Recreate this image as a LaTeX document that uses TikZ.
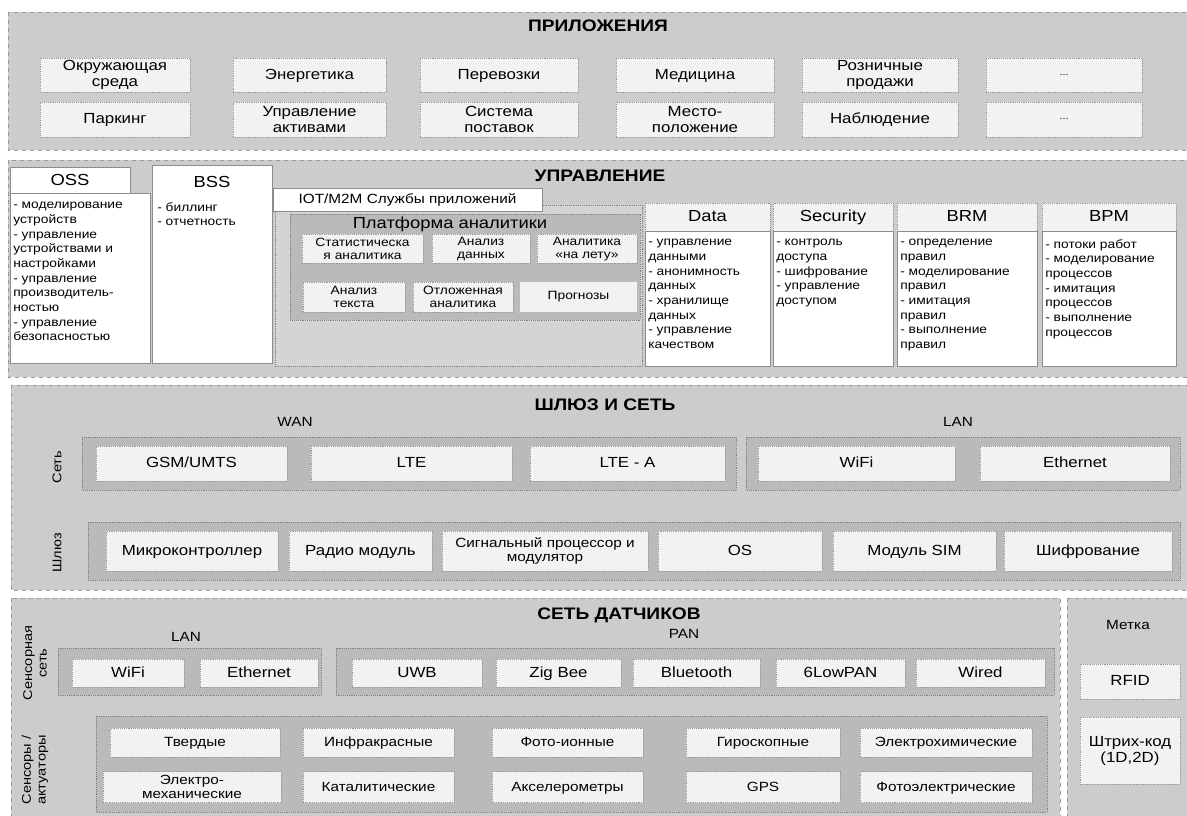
\documentclass[tikz,border=0pt]{standalone}
\usepackage{fontspec}
\setmainfont{Liberation Sans}[FakeStretch=1.15]
\usetikzlibrary{positioning}
\definecolor{bandgray}{gray}{0.80}
\definecolor{grpgray}{gray}{0.73}
\definecolor{cellgray}{gray}{0.95}

\begin{document}
\begin{tikzpicture}[
    x=0.75pt, y=-0.75pt,
    font=\fontsize{11}{12}\selectfont,
    sz/.style 2 args={minimum width=#1*0.75pt, minimum height=#2*0.75pt},
    band/.style={draw=black!40, dashed, fill=bandgray},
    grp/.style={draw=black!50, densely dotted, fill=grpgray},
    cell/.style={draw=black!40, densely dotted, fill=cellgray, align=center, inner sep=1pt},
    one/.style={text height=1.6ex, text depth=0.4ex},
    body/.style={draw=black!45, fill=white, inner sep=0pt},
    ttl/.style={font=\fontsize{12.5}{14}\selectfont\bfseries},
    hdr/.style={font=\fontsize{12}{14}\selectfont},
    lbl/.style={font=\fontsize{10}{12}\selectfont},
    lst/.style={font=\fontsize{9}{11}\selectfont, align=left, anchor=north west, inner sep=0pt},
    vlab/.style={rotate=90, align=center, font=\fontsize{9.5}{11}\selectfont}
  ]
  \useasboundingbox (0,0) rectangle (1187,816);
  \fill[white] (0,0) rectangle (1187,816);

  % Приложения
  \draw[band] (8,12) rectangle (1187,150);
  \node[ttl] (appttl) at (598,26) {ПРИЛОЖЕНИЯ};
  \node[cell, sz={150}{34}] (env) at (115,75) {Окружающая\\среда};
  \node[cell, one, sz={153}{34}] (energy) at (309.5,75) {Энергетика};
  \node[cell, one, sz={158}{34}] (transp) at (499,75) {Перевозки};
  \node[cell, one, sz={158}{34}] (med) at (695,75) {Медицина};
  \node[cell, sz={156}{34}] (retail) at (880,75) {Розничные\\продажи};
  \node[cell, sz={156}{34}, font=\scriptsize] (more1) at (1064,75) {...};
  \node[cell, one, sz={150}{35}] (parking) at (115,119.5) {Паркинг};
  \node[cell, sz={153}{35}] (assets) at (309.5,119.5) {Управление\\активами};
  \node[cell, sz={158}{35}] (supply) at (499,119.5) {Система\\поставок};
  \node[cell, sz={158}{35}] (loc) at (695,119.5) {Место-\\положение};
  \node[cell, one, sz={156}{35}] (watch) at (880,119.5) {Наблюдение};
  \node[cell, sz={156}{35}, font=\scriptsize] (more2) at (1064,119.5) {...};

  % Управление
  \draw[band] (8,160) rectangle (1187,377);
  \node[ttl] (mgmtttl) at (600,176) {УПРАВЛЕНИЕ};
  \node[body, sz={140}{170}] (ossbody) at (80,278) {};
  \node[body, hdr, sz={120}{26}] (oss) at (70,180) {OSS};
  \node[lst] (osslst) at (13,202) {- моделирование\\устройств\\- управление\\устройствами и\\настройками\\- управление\\производитель-\\ностью\\- управление\\безопасностью};
  \node[body, sz={120}{198}] (bss) at (212,264) {};
  \node[hdr] (bssttl) at (212,182) {BSS};
  \node[lst] (bsslst) at (157,202) {- биллинг\\- отчетность};

  % IOT/M2M
  \draw[grp, fill=bandgray!85!white] (275,205) rectangle (642,366);
  \draw[grp] (290,214) rectangle (640,320);
  \node[body, font=\fontsize{10}{12}\selectfont, sz={269}{23}] (iot) at (407.5,199.5) {IOT/M2M Службы приложений};
  \node[hdr] (anattl) at (450,224) {Платформа аналитики};
  \node[cell, font=\fontsize{9}{10}\selectfont, sz={121}{29}] (stat) at (362.5,249) {Статистическа\\я аналитика};
  \node[cell, font=\fontsize{9}{10}\selectfont, sz={98}{29}] (dataan) at (481,249) {Анализ\\данных};
  \node[cell, font=\fontsize{9}{10}\selectfont, sz={100}{29}] (fly) at (587,249) {Аналитика\\«на лету»};
  \node[cell, font=\fontsize{9}{10}\selectfont, sz={102}{30}] (text) at (354,297) {Анализ\\текста};
  \node[cell, font=\fontsize{9}{10}\selectfont, sz={100}{30}] (delay) at (463,297) {Отложенная\\аналитика};
  \node[cell, draw=none, font=\fontsize{9}{10}\selectfont, sz={117}{30}] (fcst) at (578.5,297) {Прогнозы};

  % Data / Security / BRM / BPM
  \node[cell, hdr, one, sz={125}{28}] (datah) at (707.5,217) {Data};
  \node[cell, hdr, one, sz={120}{28}] (sech) at (833,217) {Security};
  \node[cell, hdr, one, sz={140}{28}] (brmh) at (967,217) {BRM};
  \node[cell, hdr, one, sz={134}{28}] (bpmh) at (1109,217) {BPM};
  \node[body, sz={125}{135}] (datab) at (707.5,298.5) {};
  \node[body, sz={120}{135}] (secb) at (833,298.5) {};
  \node[body, sz={140}{135}] (brmb) at (967,298.5) {};
  \node[body, sz={134}{135}] (bpmb) at (1109,298.5) {};
  \node[lst] (datal) at (648,239) {- управление\\данными\\- анонимность\\данных\\- хранилище\\данных\\- управление\\качеством};
  \node[lst] (secl) at (776,239) {- контроль\\доступа\\- шифрование\\- управление\\доступом};
  \node[lst] (brml) at (900,239) {- определение\\правил\\- моделирование\\правил\\- имитация\\правил\\- выполнение\\правил};
  \node[lst] (bpml) at (1045,239) {- потоки работ\\- моделирование\\процессов\\- имитация\\процессов\\- выполнение\\процессов};

  % Шлюз и сеть
  \draw[band] (11,385) rectangle (1187,590);
  \node[ttl] (gwttl) at (605,405) {ШЛЮЗ И СЕТЬ};
  \node[lbl] (wan) at (295,422) {WAN};
  \node[lbl] (lan) at (958,422) {LAN};
  \draw[grp] (82,437) rectangle (736,490);
  \draw[grp] (746,437) rectangle (1180,490);
  \node[cell, one, sz={191}{35}] (gsm) at (191.5,463.5) {GSM/UMTS};
  \node[cell, one, sz={201}{35}] (lte) at (411.5,463.5) {LTE};
  \node[cell, one, sz={195}{35}] (ltea) at (627.5,463.5) {LTE - A};
  \node[cell, one, sz={197}{35}] (wifi) at (856.5,463.5) {WiFi};
  \node[cell, one, sz={190}{35}] (eth) at (1075,463.5) {Ethernet};
  \node[vlab] (netlab) at (57,467) {Сеть};
  \draw[grp] (88,522) rectangle (1180,580);
  \node[cell, one, sz={172}{40}] (mcu) at (192,551) {Микроконтроллер};
  \node[cell, one, sz={143}{40}] (radio) at (360.5,551) {Радио модуль};
  \node[cell, font=\fontsize{10}{11}\selectfont, sz={206}{40}] (dsp) at (545,551) {Сигнальный процессор и\\модулятор};
  \node[cell, one, sz={164}{40}] (os) at (740,551) {OS};
  \node[cell, one, sz={163}{40}] (sim) at (914.5,551) {Модуль SIM};
  \node[cell, one, sz={168}{40}] (crypt) at (1088,551) {Шифрование};
  \node[vlab] (gwlab) at (57,553) {Шлюз};

  % Сеть датчиков
  \draw[band] (11,598) rectangle (1060,816);
  \draw[band] (1067,598) rectangle (1187,816);
  \node[ttl] (snttl) at (619,615) {СЕТЬ ДАТЧИКОВ};
  \node[lbl] (slan) at (186,637) {LAN};
  \node[lbl] (span) at (684,634) {PAN};
  \draw[grp] (58,648) rectangle (321,695);
  \draw[grp] (336,648) rectangle (1054,695);
  \node[cell, one, sz={112}{28}] (swifi) at (128,673) {WiFi};
  \node[cell, one, sz={118}{28}] (seth) at (259,673) {Ethernet};
  \node[cell, one, sz={130}{28}] (uwb) at (417,673) {UWB};
  \node[cell, one, sz={125}{28}] (zig) at (558.5,673) {Zig Bee};
  \node[cell, one, sz={127}{28}] (bt) at (696.5,673) {Bluetooth};
  \node[cell, one, sz={129}{28}] (lowpan) at (840.5,673) {6LowPAN};
  \node[cell, one, sz={129}{28}] (wired) at (980.5,673) {Wired};
  \node[vlab] (snlab) at (35,663) {Сенсорная\\сеть};
  \draw[grp] (96,716) rectangle (1047,812);
  \node[cell, one, font=\fontsize{10}{11}\selectfont, sz={170}{29}] (solid) at (195,742.5) {Твердые};
  \node[cell, one, font=\fontsize{10}{11}\selectfont, sz={151}{29}] (ir) at (378.5,742.5) {Инфракрасные};
  \node[cell, one, font=\fontsize{10}{11}\selectfont, sz={151}{29}] (photoion) at (567.5,742.5) {Фото-ионные};
  \node[cell, one, font=\fontsize{10}{11}\selectfont, sz={154}{29}] (gyro) at (763,742.5) {Гироскопные};
  \node[cell, one, font=\fontsize{10}{11}\selectfont, sz={172}{29}] (echem) at (946,742.5) {Электрохимические};
  \node[cell, font=\fontsize{10}{11}\selectfont, sz={178}{31}] (emech) at (192,787) {Электро-\\механические};
  \node[cell, one, font=\fontsize{10}{11}\selectfont, sz={151}{31}] (catal) at (378.5,787) {Каталитические};
  \node[cell, one, font=\fontsize{10}{11}\selectfont, sz={151}{31}] (accel) at (567.5,787) {Акселерометры};
  \node[cell, one, font=\fontsize{10}{11}\selectfont, sz={154}{31}] (gps) at (763,787) {GPS};
  \node[cell, one, font=\fontsize{10}{11}\selectfont, sz={172}{31}] (pel) at (946,787) {Фотоэлектрические};
  \node[vlab] (salab) at (35,770) {Сенсоры /\\актуаторы};

  % Метка
  \node[lbl] (tag) at (1128,625) {Метка};
  \node[cell, one, sz={100}{35}] (rfid) at (1130,681.5) {RFID};
  \node[cell, sz={100}{67}] (barcode) at (1130,750.5) {Штрих-код\\(1D,2D)};
\end{tikzpicture}
\end{document}
